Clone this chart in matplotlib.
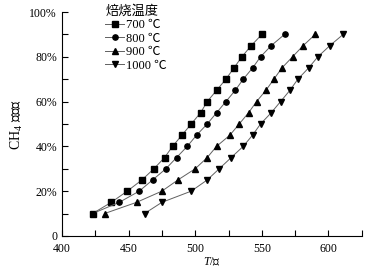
import numpy as np
import matplotlib.pyplot as plt
from matplotlib.ticker import MultipleLocator, FuncFormatter

plt.rcParams['font.family'] = ['Liberation Serif', 'Noto Sans CJK SC']
plt.rcParams['mathtext.fontset'] = 'custom'
plt.rcParams['mathtext.rm'] = 'Liberation Serif'
plt.rcParams['mathtext.it'] = 'Liberation Serif:italic'

# 转化率 (%)
conv = [10, 15, 20, 25, 30, 35, 40, 45, 50, 55, 60, 65, 70, 75, 80, 85, 90]

# 各焙烧温度下的反应温度 (℃)
t_700 = [423, 437, 449, 460, 469, 477, 483, 490, 497, 504, 509, 516, 523, 529, 535, 542, 550]
t_800 = [423, 443, 458, 468, 478, 486, 494, 501, 509, 516, 523, 530, 536, 543, 549, 557, 567]
t_900 = [432, 456, 475, 487, 500, 509, 516, 526, 533, 540, 546, 553, 559, 565, 573, 581, 590]
t_1000 = [462, 475, 497, 509, 518, 527, 536, 543, 549, 557, 564, 571, 577, 585, 592, 601, 611]

labels = ['700 ℃', '800 ℃', '900 ℃', '1000 ℃']
markers = ['s', 'o', '^', 'v']

fig = plt.figure(figsize=(3.92, 2.74), dpi=100)
ax = fig.add_axes([0.158, 0.139, 0.765, 0.817])

for t, lab, m in zip([t_700, t_800, t_900, t_1000], labels, markers):
    ax.plot(t, conv, color='#606060', lw=0.7, marker=m, ms=3.8,
            mfc='black', mec='black', label=lab)

ax.set_xlim(400, 625)
ax.set_ylim(0, 100)
ax.xaxis.set_major_locator(MultipleLocator(50))
ax.xaxis.set_minor_locator(MultipleLocator(25))
ax.yaxis.set_major_locator(MultipleLocator(20))
ax.yaxis.set_minor_locator(MultipleLocator(10))
ax.yaxis.set_major_formatter(FuncFormatter(lambda v, p: '0' if v == 0 else f'{v:.0f}%'))

ax.spines['top'].set_visible(False)
ax.spines['right'].set_visible(False)
ax.tick_params(which='both', direction='in', labelsize=8.5, width=0.8, length=4)
ax.tick_params(axis='x', pad=5)

ax.set_xlabel('$T$/℃', fontsize=8.5, labelpad=1)
ax.set_ylabel('CH$_4$ 转化率', fontsize=10, labelpad=3)

leg = ax.legend(title='焙烧温度', loc='upper left', bbox_to_anchor=(0.115, 1.07),
                frameon=False, fontsize=9, title_fontsize=9.5, handlelength=1.5,
                handletextpad=0.2, labelspacing=0.12, borderpad=0.2)
leg._legend_box.align = 'left'

fig.savefig('out.png', dpi=100)
